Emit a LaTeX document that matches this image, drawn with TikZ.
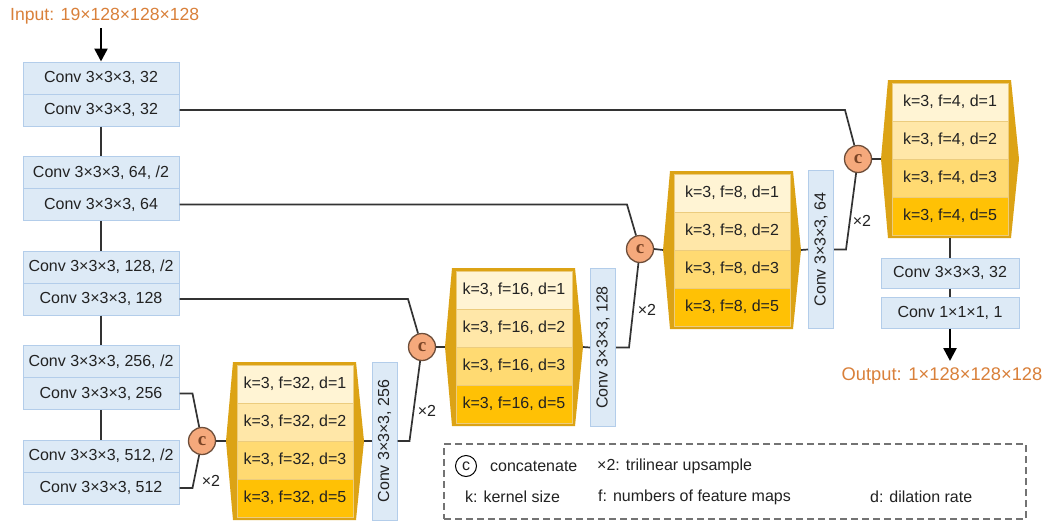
\documentclass[tikz,border=0pt]{standalone}
\usepackage{fontspec}
\setmainfont{Liberation Sans}
\newfontfamily\cfont{Liberation Serif}
\usetikzlibrary{arrows.meta,calc}
\definecolor{encfill}{HTML}{DDEAF6}
\definecolor{encdraw}{HTML}{B3CDEA}
\definecolor{gold}{HTML}{DCA315}
\definecolor{rowa}{HTML}{FFF4D4}
\definecolor{rowb}{HTML}{FFE7A8}
\definecolor{rowc}{HTML}{FFDA72}
\definecolor{rowd}{HTML}{FFC105}
\definecolor{orangetxt}{HTML}{D9803A}
\definecolor{cfill}{HTML}{F5A97C}
\definecolor{cdraw}{HTML}{6E4E3A}
\definecolor{ctext}{HTML}{7A4426}
\definecolor{linec}{HTML}{333333}
\definecolor{txt}{HTML}{222222}
\tikzset{
  basefont/.style={font=\fontsize{16}{19}\selectfont, text=txt},
  encbox/.style={basefont, draw=encdraw, fill=encfill, line width=1pt, minimum width=156pt, minimum height=32pt, inner sep=0pt},
  vbox/.style={basefont, draw=encdraw, fill=encfill, line width=1pt, minimum width=158pt, minimum height=25pt, inner sep=0pt, rotate=90},
  hrow/.style={basefont, draw=gold!55!white, line width=0.6pt, minimum width=116pt, minimum height=38pt, inner sep=0pt},
  cnode/.style={circle, minimum size=27pt, inner sep=0pt, fill=cfill, draw=cdraw, line width=1.3pt, text=ctext, font=\cfont\bfseries\fontsize{19}{19}\selectfont},
  conn/.style={draw=linec, line width=1.7pt},
  arr/.style={draw=black, line width=2.6pt, -{Triangle[length=13pt,width=13pt]}},
  iolabel/.style={text=orangetxt, font=\fontsize{17.6}{22}\selectfont, inner sep=0pt},
  xlabel/.style={basefont, inner sep=0pt},
  legtext/.style={basefont, anchor=west, inner sep=0pt},
}
\newcommand{\hexblk}[4]{%
  \coordinate (#1-w) at ({#2-7},{#3+79});
  \coordinate (#1-e) at ({#2+131},{#3+79});
  \coordinate (#1-s) at ({#2+62},{#3+158});
  \fill[gold] (#2,#3) -- ({#2+123},#3) -- (#1-e) -- ({#2+123},{#3+158}) -- (#2,{#3+158}) -- (#1-w) -- cycle;
  \node[hrow,fill=rowa] (#1-1) at ({#2+62},{#3+22}) {k=3, f=#4, d=1};
  \node[hrow,fill=rowb] (#1-2) at ({#2+62},{#3+60}) {k=3, f=#4, d=2};
  \node[hrow,fill=rowc] (#1-3) at ({#2+62},{#3+98}) {k=3, f=#4, d=3};
  \node[hrow,fill=rowd] (#1-4) at ({#2+62},{#3+136}) {k=3, f=#4, d=5};
}
\begin{document}
\begin{tikzpicture}[x=1pt,y=-1pt]
\useasboundingbox[fill=white] (0,0) rectangle (1050,522);

% input
\node[iolabel, anchor=west] (inlab) at (10,16) {Input: 19×128×128×128};
\coordinate (inp) at (101,28);

% encoder
\node[encbox] (e1a) at (101,78) {Conv 3×3×3, 32};
\node[encbox] (e1b) at (101,110) {Conv 3×3×3, 32};
\node[encbox] (e2a) at (101,172.5) {Conv 3×3×3, 64, /2};
\node[encbox] (e2b) at (101,204.5) {Conv 3×3×3, 64};
\node[encbox] (e3a) at (101,267) {Conv 3×3×3, 128, /2};
\node[encbox] (e3b) at (101,299) {Conv 3×3×3, 128};
\node[encbox] (e4a) at (101,361.5) {Conv 3×3×3, 256, /2};
\node[encbox] (e4b) at (101,393.5) {Conv 3×3×3, 256};
\node[encbox] (e5a) at (101,456) {Conv 3×3×3, 512, /2};
\node[encbox] (e5b) at (101,488) {Conv 3×3×3, 512};

\draw[arr] (inp) -- (e1a.north);
\draw[conn] (e1b.south) -- (e2a.north);
\draw[conn] (e2b.south) -- (e3a.north);
\draw[conn] (e3b.south) -- (e4a.north);
\draw[conn] (e4b.south) -- (e5a.north);

% decoder blocks
\hexblk{hA}{233}{362}{32}
\hexblk{hB}{452}{268}{16}
\hexblk{hC}{670}{171}{8}
\hexblk{hD}{888}{80}{4}

% vertical conv boxes (rotated: north = left side, south = right side)
\node[vbox] (vA) at (384.5,441) {Conv 3×3×3, 256};
\node[vbox] (vB) at (603,347.5) {Conv 3×3×3, 128};
\node[vbox] (vC) at (821,249.5) {Conv 3×3×3, 64};

% concatenation circles
\node[cnode] (cA) at (202,441) {c};
\node[cnode] (cB) at (422,347) {c};
\node[cnode] (cC) at (640,249) {c};
\node[cnode] (cD) at (858,159) {c};

% bend coordinates for skip connections
\coordinate (bB) at (408,0);
\coordinate (bC) at (627,0);
\coordinate (bD) at (845,0);

% connections level A
\draw[conn] (e4b.east) -- ++(13,0) -- (cA);
\draw[conn] (e5b.east) -- ++(13,0) -- (cA);
\draw[conn] (cA.east) -- (hA-w);
\draw[conn] (hA-e) -- (vA.north);
% level B
\draw[conn] (vA.south) -- ++(12,0) -- (cB);
\draw[conn] (e3b.east) -- (e3b.east -| bB) -- (cB);
\draw[conn] (cB.east) -- (hB-w);
\draw[conn] (hB-e) -- (vB.north);
% level C
\draw[conn] (vB.south) -- ++(13,0) -- (cC);
\draw[conn] (e2b.east) -- (e2b.east -| bC) -- (cC);
\draw[conn] (cC.east) -- (hC-w);
\draw[conn] (hC-e) -- (vC.north);
% level D
\draw[conn] (vC.south) -- ++(12,0) -- (cD);
\draw[conn] (e1b.east) -- (e1b.east -| bD) -- (cD);
\draw[conn] (cD.east) -- (hD-w);

% x2 labels
\node[xlabel] (xA) at (211,481) {×2};
\node[xlabel] (xB) at (427,411) {×2};
\node[xlabel] (xC) at (647,310) {×2};
\node[xlabel] (xD) at (862,221) {×2};

% output path
\node[encbox, minimum width=138pt, minimum height=30pt] (o32) at (950,273) {Conv 3×3×3, 32};
\node[encbox, minimum width=138pt, minimum height=31pt] (o1) at (950,312.5) {Conv 1×1×1, 1};
\draw[conn] (hD-s) -- (o32.north);
\draw[conn] (o32.south) -- (o1.north);
\coordinate (outp) at (950,361);
\draw[arr] (o1.south) -- (outp);
\node[iolabel, font=\fontsize{18.3}{22}\selectfont] (outlab) at (942,376) {Output: 1×128×128×128};

% legend
\node[draw=black!55, dash pattern=on 7pt off 4pt, line width=1.4pt, minimum width=582pt, minimum height=75pt, inner sep=0pt] (leg) at (735,481.5) {};
\node[circle, draw=black, line width=1pt, minimum size=21pt, inner sep=0pt, basefont] (legc) at (466,466) {c};
\node[legtext] (l1) at (490,466) {concatenate};
\node[legtext] (l2) at (597,466) {×2: trilinear upsample};
\node[legtext] (l3) at (465,497) {k: kernel size};
\node[legtext] (l4) at (598,497) {f: numbers of feature maps};
\node[legtext] (l5) at (870,497) {d: dilation rate};
\end{tikzpicture}
\end{document}
